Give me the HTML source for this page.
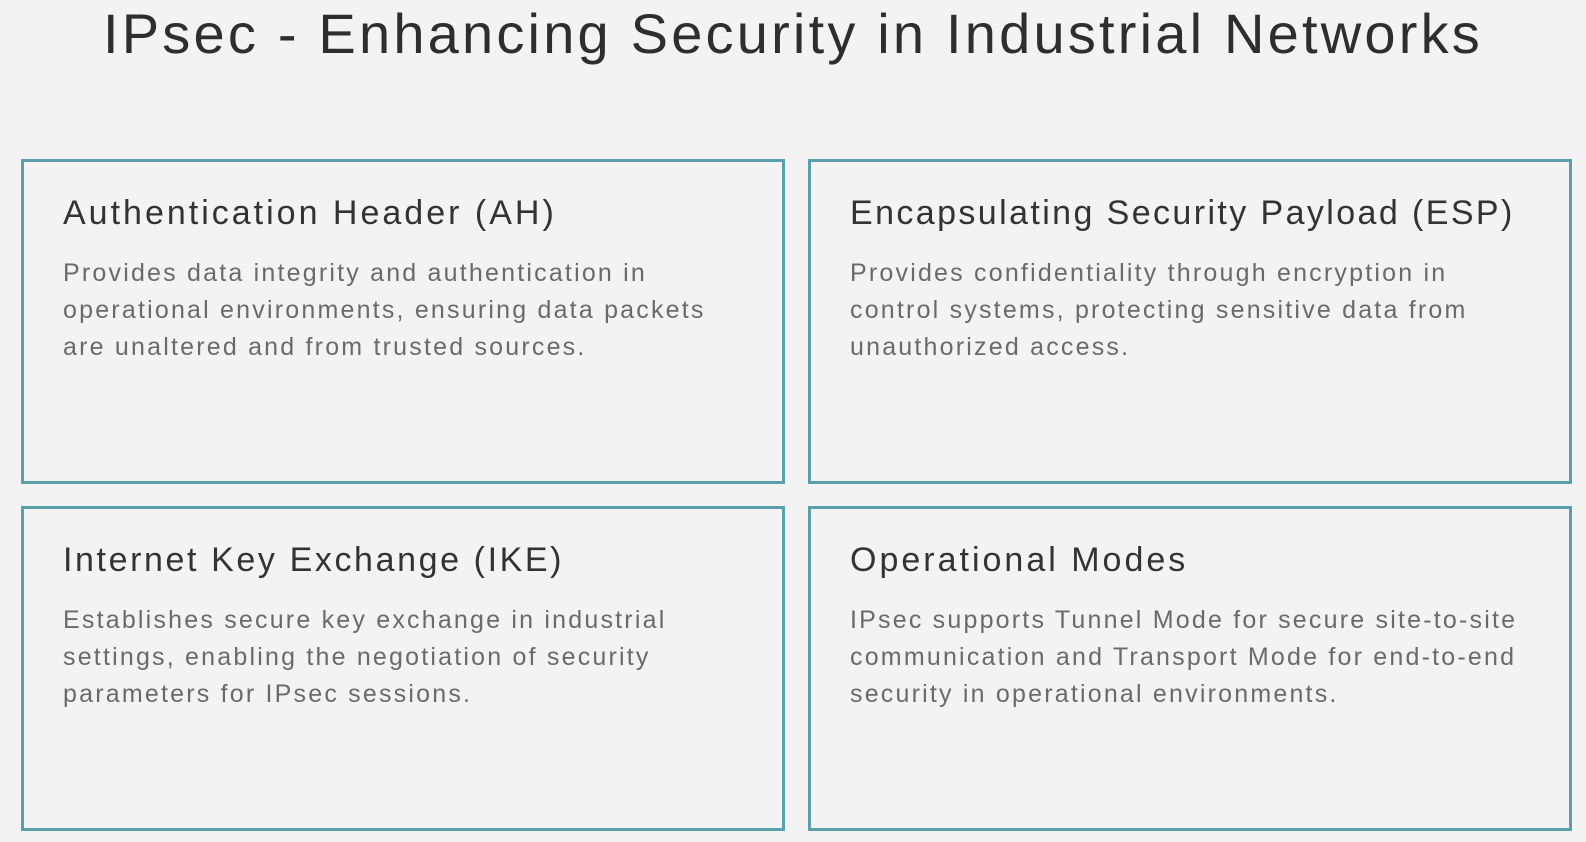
<!DOCTYPE html>
<html><head><style>
body{margin:0;width:1586px;height:842px;background:#f3f3f3;font-family:"Liberation Sans",sans-serif;position:relative;overflow:hidden}
h1{position:absolute;top:1px;left:0;width:1586px;text-align:center;margin:0;font-weight:normal;font-size:56px;line-height:66px;color:#2e2e2e;letter-spacing:3.2px}
.b{position:absolute;border:3px solid #5a9fae;box-sizing:border-box;width:764px;height:325px}
.b h2{position:absolute;left:39px;top:32px;margin:0;font-weight:normal;font-size:34px;color:#333;letter-spacing:3px}
.b p{position:absolute;left:39px;top:93px;margin:0;font-size:25px;line-height:36.8px;color:#6a6a6a;width:720px;letter-spacing:2.2px}
</style></head><body>
<h1>IPsec - Enhancing Security in Industrial Networks</h1>
<div class="b" style="left:21px;top:159px"><h2>Authentication Header (AH)</h2><p>Provides data integrity and authentication in<br>operational environments, ensuring data packets<br>are unaltered and from trusted sources.</p></div>
<div class="b" style="left:808px;top:159px"><h2 style="letter-spacing:2.4px">Encapsulating Security Payload (ESP)</h2><p>Provides confidentiality through encryption in<br>control systems, protecting sensitive data from<br>unauthorized access.</p></div>
<div class="b" style="left:21px;top:506px"><h2 style="letter-spacing:2.6px">Internet Key Exchange (IKE)</h2><p>Establishes secure key exchange in industrial<br>settings, enabling the negotiation of security<br>parameters for IPsec sessions.</p></div>
<div class="b" style="left:808px;top:506px"><h2>Operational Modes</h2><p>IPsec supports Tunnel Mode for secure site-to-site<br>communication and Transport Mode for end-to-end<br>security in operational environments.</p></div>
</body></html>
